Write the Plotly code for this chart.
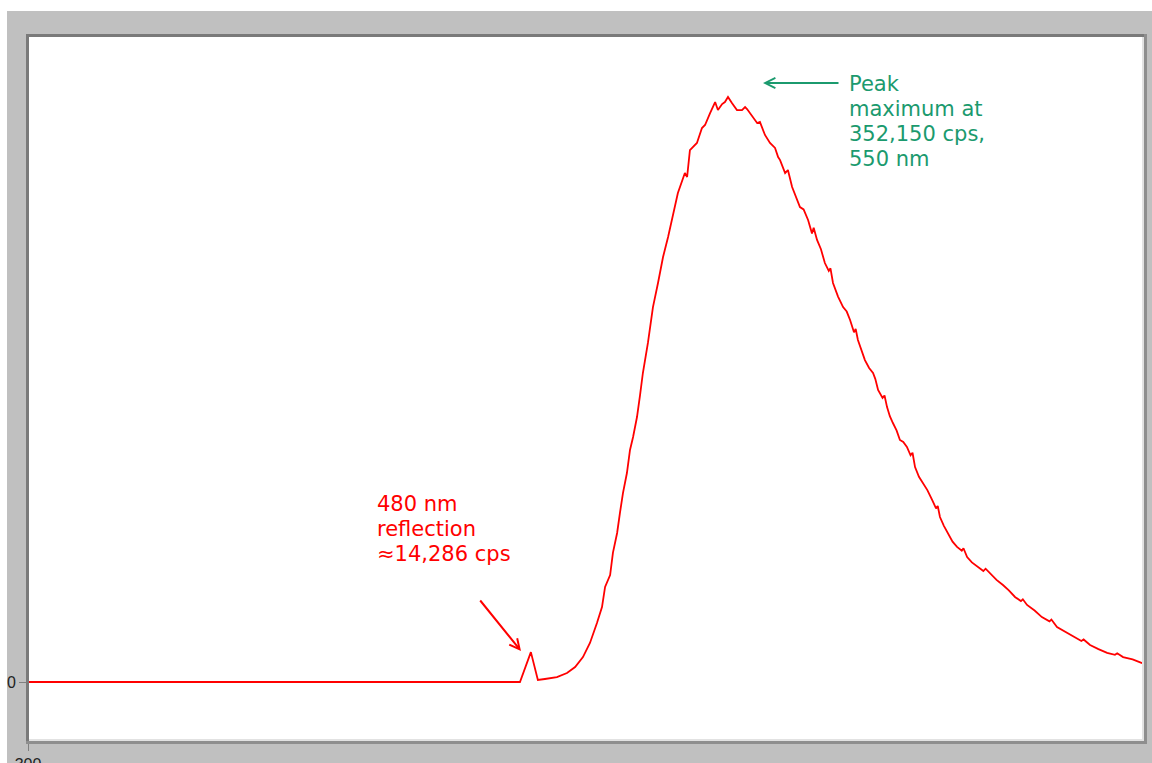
import plotly.graph_objects as go

# ---------------- data ----------------
wavelength_nm = [
    300.0, 475.7, 479.6, 482.1, 484.6, 488.9, 492.5, 495.4, 498.2, 500.7,
    503.2, 505.0, 506.1, 507.9, 508.9, 510.4, 511.4, 512.5, 513.9, 515.0,
    516.1, 517.5, 518.6, 519.6, 521.4, 523.2, 525.0, 526.8, 528.6, 530.4,
    532.1, 534.6, 535.4, 536.4, 538.9, 540.7, 541.8, 543.6, 545.4, 546.4,
    547.9, 548.9, 550.0, 551.4, 553.2, 555.0, 556.1, 556.8, 557.9, 559.3,
    560.4, 561.4, 563.2, 565.0, 566.8, 567.9, 568.6, 570.4, 571.4, 572.9,
    575.7, 577.0, 578.6, 580.0, 580.6, 581.8, 583.2, 584.6, 586.0, 586.6,
    587.5, 589.3, 591.1, 592.4, 593.6, 595.0, 595.6, 596.4, 597.6, 598.9,
    600.4, 601.8, 602.6, 603.6, 605.2, 605.9, 606.8, 607.8, 608.9, 610.2,
    611.4, 612.6, 613.9, 615.2, 615.9, 616.8, 618.2, 619.6, 621.2, 622.9,
    624.3, 624.9, 625.7, 627.1, 628.6, 630.2, 631.8, 633.5, 634.1, 635.4,
    637.1, 638.9, 641.2, 642.0, 643.6, 645.9, 648.2, 650.3, 652.5, 654.6,
    655.3, 656.8, 659.5, 662.1, 664.8, 665.5, 667.5, 670.3, 673.2, 676.2,
    677.0, 679.3, 682.3, 685.4, 688.2, 689.0, 691.1, 694.5, 697.9,
]
intensity_cps = [
    0, 0, 18000, 1200, 1800, 3000, 5400, 9000, 15000, 23500,
    35500, 45100, 57200, 64400, 77700, 89700, 101700, 113800, 125800, 139700,
    147500, 159500, 172800, 186000, 204100, 225700, 240200, 255800, 267900, 282300,
    294400, 306400, 304000, 320200, 324500, 333500, 335300, 342500, 349100, 344300,
    347900, 349100, 352150, 348500, 344300, 344300, 346100, 344900, 342500, 339500,
    336500, 337100, 329300, 324500, 321500, 316000, 314200, 306400, 308200, 298000,
    285900, 284500, 278100, 270000, 273500, 266100, 260500, 252200, 247500, 249000,
    240200, 232000, 225700, 223000, 217900, 210500, 212500, 205900, 200500, 193800,
    189000, 186000, 182500, 175800, 171000, 172500, 165500, 160000, 155900, 151500,
    145700, 144500, 141500, 136500, 138000, 129400, 123500, 119800, 115500, 109600,
    104500, 106000, 99300, 94000, 89700, 84500, 81300, 79000, 80500, 75200,
    72000, 69800, 66800, 68200, 65600, 61500, 58400, 55200, 51200, 48700,
    49800, 46400, 43000, 39100, 36500, 37600, 33100, 30400, 27100, 24700,
    25600, 22300, 19800, 17500, 16400, 17300, 15000, 13600, 11400,
]
x_tick_vals = [300]
x_tick_text = ["300"]
y_tick_vals = [0]
y_tick_text = ["0"]

reflection_lines = ["480 nm", "reflection", "\u224814,286 cps"]
peak_lines = ["Peak", "maximum at", "352,150 cps,", "550 nm"]

# ---------------- layout geometry (page pixels) ----------------
WIDTH, HEIGHT = 1152, 763
PLOT_X0, PLOT_X1 = 28, 1143
PLOT_Y0, PLOT_Y1 = 37, 740
L = PLOT_X0
R = WIDTH - PLOT_X1
T = PLOT_Y0
B = HEIGHT - PLOT_Y1
PW = PLOT_X1 - PLOT_X0
PH = PLOT_Y1 - PLOT_Y0
PX_PER_NM = 2.8
CPS_PER_PX = 601.97
ZERO_PX = 682

x_range = [300, 300 + PW / PX_PER_NM]
y_range = [(ZERO_PX - PLOT_Y1) * CPS_PER_PX, (ZERO_PX - PLOT_Y0) * CPS_PER_PX]


def px(x):
    return (x - PLOT_X0) / PW


def py(y):
    return (PLOT_Y1 - y) / PH


def rect(x0, y0, x1, y1, color, layer="above"):
    return dict(type="rect", xref="paper", yref="paper",
                x0=px(x0), x1=px(x1), y0=py(y1), y1=py(y0),
                fillcolor=color, line=dict(width=0), layer=layer)


RED = "#ff0000"
GREEN = "#1b9a6e"
FRAME_DARK = "#7a7a7a"
FRAME_MID = "#8e8e8e"
FRAME_LIGHT = "#e2e2e2"

fig = go.Figure()
fig.add_trace(go.Scatter(
    x=wavelength_nm, y=intensity_cps, mode="lines",
    line=dict(color=RED, width=1.8), hoverinfo="skip", showlegend=False,
))

shapes = [
    rect(0, 0, WIDTH, 11, "white", "below"),
    rect(0, 0, 7, HEIGHT, "white", "below"),
    rect(26, 34, 29, 744, FRAME_DARK),
    rect(26, 34, 1147, 37, FRAME_DARK),
    rect(29, 739, 1144, 741, FRAME_LIGHT),
    rect(26, 741, 1147, 744, FRAME_MID),
    rect(1142, 37, 1144, 741, FRAME_LIGHT),
    rect(1144, 34, 1147, 744, FRAME_MID),
]

annotations = []
for i, line in enumerate(reflection_lines):
    annotations.append(dict(
        xref="paper", yref="paper", x=px(375), y=py(504 + 25 * i),
        xanchor="left", yanchor="middle", text=line, showarrow=False,
        font=dict(family="DejaVu Sans", size=21, color=RED)))
for i, line in enumerate(peak_lines):
    annotations.append(dict(
        xref="paper", yref="paper", x=px(847), y=py(84 + 25 * i),
        xanchor="left", yanchor="middle", text=line, showarrow=False,
        font=dict(family="DejaVu Sans", size=21, color=GREEN)))

# arrows
annotations.append(dict(
    xref="paper", yref="paper", x=px(521), y=py(651),
    axref="pixel", ayref="pixel", ax=-42, ay=-52,
    text="", showarrow=True, arrowhead=5, arrowsize=1.0, arrowwidth=2,
    arrowcolor=RED, standoff=0, startstandoff=0))
annotations.append(dict(
    xref="paper", yref="paper", x=px(763), y=py(83),
    axref="pixel", ayref="pixel", ax=77, ay=0,
    text="", showarrow=True, arrowhead=5, arrowsize=1.0, arrowwidth=2,
    arrowcolor=GREEN, standoff=0, startstandoff=0))

fig.update_layout(
    width=WIDTH, height=HEIGHT,
    margin=dict(l=L, r=R, t=T, b=B, pad=0, autoexpand=False),
    paper_bgcolor="#c0c0c0", plot_bgcolor="white",
    shapes=shapes, annotations=annotations,
    showlegend=False,
    xaxis=dict(range=x_range, tickvals=x_tick_vals, ticktext=x_tick_text,
               showgrid=False, zeroline=False, showline=False, automargin=False,
               ticks="outside", ticklen=10, tickwidth=1, tickcolor="#808080",
               tickfont=dict(family="Liberation Sans", size=16, color="#222222"),
               fixedrange=True),
    yaxis=dict(range=y_range, tickvals=y_tick_vals, ticktext=y_tick_text,
               showgrid=False, zeroline=False, showline=False, automargin=False,
               ticks="outside", ticklen=8, tickwidth=1, tickcolor="#808080",
               tickfont=dict(family="Liberation Sans", size=16, color="#222222"),
               fixedrange=True),
)

fig.write_html(
    "out.html",
    config={"displayModeBar": False},
    post_script="document.body.style.margin='0';document.body.style.overflow='hidden';",
)
